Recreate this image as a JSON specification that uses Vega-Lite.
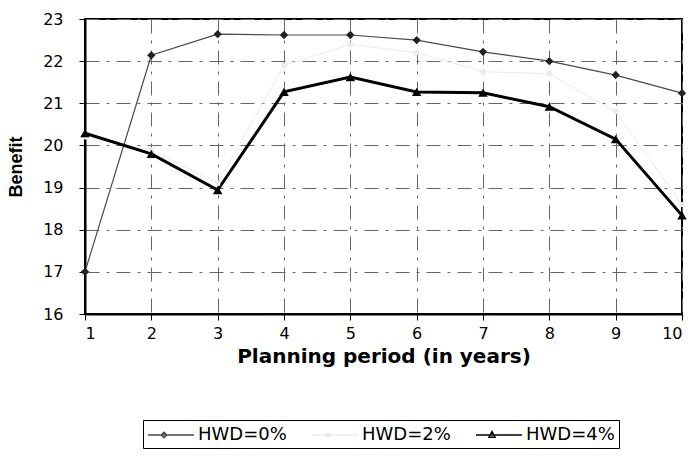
{
  "$schema": "https://vega.github.io/schema/vega-lite/v6.json",
  "width": 597,
  "height": 295,
  "autosize": {"type": "none"},
  "padding": {"left": 85, "top": 19, "right": 14, "bottom": 143},
  "background": "white",
  "config": {
    "font": "DejaVu Sans",
    "view": {"stroke": "black", "strokeWidth": 2},
    "axis": {
      "labelFont": "DejaVu Sans",
      "labelFontSize": 16,
      "labelColor": "black",
      "titleFont": "DejaVu Sans",
      "titleFontSize": 20,
      "titleFontWeight": "bold",
      "titleColor": "black",
      "domainColor": "black",
      "domainWidth": 2,
      "tickColor": "black",
      "tickSize": 6,
      "gridColor": "#666666",
      "gridDash": [14, 7, 3, 7],
      "gridWidth": 1
    }
  },
  "data": {
    "values": [
      {"x": 1, "series": "HWD=0%", "benefit": 17.0},
      {"x": 2, "series": "HWD=0%", "benefit": 22.14},
      {"x": 3, "series": "HWD=0%", "benefit": 22.64},
      {"x": 4, "series": "HWD=0%", "benefit": 22.62},
      {"x": 5, "series": "HWD=0%", "benefit": 22.62},
      {"x": 6, "series": "HWD=0%", "benefit": 22.5},
      {"x": 7, "series": "HWD=0%", "benefit": 22.22},
      {"x": 8, "series": "HWD=0%", "benefit": 22.0},
      {"x": 9, "series": "HWD=0%", "benefit": 21.67},
      {"x": 10, "series": "HWD=0%", "benefit": 21.24},
      {"x": 1, "series": "HWD=2%", "benefit": 20.2},
      {"x": 2, "series": "HWD=2%", "benefit": 19.9},
      {"x": 3, "series": "HWD=2%", "benefit": 19.1},
      {"x": 4, "series": "HWD=2%", "benefit": 21.9},
      {"x": 5, "series": "HWD=2%", "benefit": 22.4},
      {"x": 6, "series": "HWD=2%", "benefit": 22.2},
      {"x": 7, "series": "HWD=2%", "benefit": 21.75},
      {"x": 8, "series": "HWD=2%", "benefit": 21.7},
      {"x": 9, "series": "HWD=2%", "benefit": 20.8},
      {"x": 10, "series": "HWD=2%", "benefit": 18.6},
      {"x": 1, "series": "HWD=4%", "benefit": 20.29},
      {"x": 2, "series": "HWD=4%", "benefit": 19.8},
      {"x": 3, "series": "HWD=4%", "benefit": 18.94},
      {"x": 4, "series": "HWD=4%", "benefit": 21.27},
      {"x": 5, "series": "HWD=4%", "benefit": 21.62},
      {"x": 6, "series": "HWD=4%", "benefit": 21.27},
      {"x": 7, "series": "HWD=4%", "benefit": 21.25},
      {"x": 8, "series": "HWD=4%", "benefit": 20.92},
      {"x": 9, "series": "HWD=4%", "benefit": 20.15},
      {"x": 10, "series": "HWD=4%", "benefit": 18.34}
    ]
  },
  "encoding": {
    "x": {
      "field": "x",
      "type": "quantitative",
      "scale": {"domain": [1, 10], "nice": false, "zero": false},
      "axis": {"title": "Planning period (in years)", "values": [1,2,3,4,5,6,7,8,9,10], "labelPadding": 5, "titlePadding": 5}
    },
    "y": {
      "field": "benefit",
      "type": "quantitative",
      "scale": {"domain": [16, 23], "nice": false, "zero": false},
      "axis": {"title": "Benefit", "titleFont": "Liberation Sans", "titleFontSize": 18, "values": [16,17,18,19,20,21,22,23], "labelPadding": 16, "titlePadding": 17}
    }
  },
  "layer": [
    {
      "transform": [{"filter": "datum.series === 'HWD=2%'"}],
      "mark": {"type": "line", "color": "#ebebeb", "strokeWidth": 1},
      "encoding": {}
    },
    {
      "transform": [{"filter": "datum.series === 'HWD=0%'"}],
      "mark": {"type": "line", "color": "#4a4a4a", "strokeWidth": 1.2},
      "encoding": {}
    },
    {
      "transform": [{"filter": "datum.series === 'HWD=4%'"}],
      "mark": {"type": "line", "color": "#000000", "strokeWidth": 3},
      "encoding": {}
    },
    {
      "transform": [{"filter": "datum.series === 'HWD=2%'"}],
      "mark": {"type": "point", "shape": "square", "filled": true, "opacity": 1, "color": "#ebebeb", "size": 25},
      "encoding": {}
    },
    {
      "transform": [{"filter": "datum.series === 'HWD=0%'"}],
      "mark": {"type": "point", "shape": "diamond", "filled": true, "opacity": 1, "color": "#222222", "size": 70},
      "encoding": {}
    },
    {
      "transform": [{"filter": "datum.series === 'HWD=4%'"}],
      "mark": {"type": "point", "shape": "triangle-up", "filled": true, "opacity": 1, "color": "#000000", "size": 90},
      "encoding": {}
    },
    {
      "transform": [{"filter": "false"}],
      "mark": {"type": "point", "filled": false, "opacity": 1},
      "encoding": {
        "color": {
          "field": "series",
          "type": "nominal",
          "scale": {"domain": ["HWD=0%", "HWD=2%", "HWD=4%"], "range": ["#4a4a4a", "#ebebeb", "#000000"]},
          "legend": {
            "title": null,
            "orient": "none",
            "legendX": 58,
            "legendY": 401,
            "direction": "horizontal",
            "strokeColor": "black",
            "padding": 4,
            "symbolSize": 400,
            "symbolStrokeWidth": 1.5,
            "labelFont": "DejaVu Sans",
            "labelFontSize": 18,
            "labelColor": "black",
            "labelOffset": 29,
            "columnPadding": 22
          }
        },
        "shape": {
          "field": "series",
          "type": "nominal",
          "scale": {
            "domain": ["HWD=0%", "HWD=2%", "HWD=4%"],
            "range": [
              "M-1,0H3.6M0.6,-0.28L0.88,0L0.6,0.28L0.32,0Z",
              "M-1,0H3.6M0.45,-0.15H0.75V0.15H0.45Z",
              "M-1,0H3.6M0.6,-0.35L0.9,0.22L0.3,0.22Z"
            ]
          },
          "legend": {
            "title": null,
            "orient": "none",
            "legendX": 58,
            "legendY": 401,
            "direction": "horizontal",
            "strokeColor": "black",
            "padding": 4,
            "symbolSize": 400,
            "symbolStrokeWidth": 1.5,
            "labelFont": "DejaVu Sans",
            "labelFontSize": 18,
            "labelColor": "black",
            "labelOffset": 29,
            "columnPadding": 22
          }
        }
      }
    }
  ]
}
